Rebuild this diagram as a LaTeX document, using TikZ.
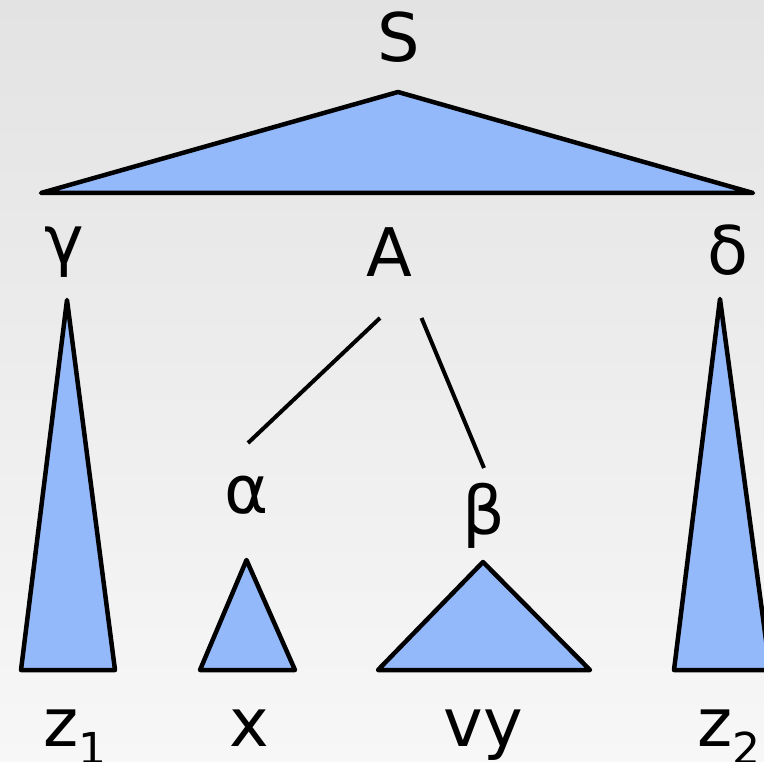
\documentclass[tikz,border=0pt]{standalone}
\usepackage{fontspec}
\setmainfont{DejaVu Sans}
\usetikzlibrary{positioning}
\definecolor{treefill}{RGB}{148,185,250}
\definecolor{bgtop}{RGB}{227,227,227}
\definecolor{bgbottom}{RGB}{247,247,247}
\tikzset{
  sym/.style={inner sep=0pt, font=\fontsize{67}{67}\selectfont},
  subtree/.style={draw=black, fill=treefill, line width=4.5pt, line join=round},
  branch/.style={line width=4pt}
}
\newcommand{\lowidx}[1]{\raisebox{-18pt}{\fontsize{44}{44}\selectfont #1}}

\begin{document}
\begin{tikzpicture}[x=1pt, y=-1pt]
\shade[top color=bgtop, bottom color=bgbottom] (0,0) rectangle (764,762);
\useasboundingbox (0,0) rectangle (764,762);
\node[sym] (S) at (399,37.5) {S};
\node[sym] (gamma) at (64.5,252) {γ};
\node[sym] (A) at (389.5,252) {A};
\node[sym] (delta) at (728,250) {δ};
\node[sym] (alpha) at (246.5,495) {α};
\node[sym] (beta) at (484,515.5) {β};
\node[sym, anchor=base west] (z1) at (43,746) {z\lowidx{1}};
\node[sym, anchor=base] (x) at (249,746) {x};
\node[sym, anchor=base] (vy) at (483,746) {vy};
\node[sym, anchor=base west] (z2) at (697,746) {z\lowidx{2}};
\draw[subtree] (398,92) -- (41,193) -- (753,193) -- cycle;
\draw[subtree] (67,300) -- (21,670) -- (115,670) -- cycle;
\draw[subtree] (720,299) -- (674,670) -- (770,670) -- cycle;
\draw[subtree] (246.5,560) -- (200,670) -- (295,670) -- cycle;
\draw[subtree] (483,562) -- (378,670) -- (590,670) -- cycle;
\coordinate (A-l) at (380,318);
\coordinate (A-r) at (421.5,318);
\coordinate (alpha-t) at (248,443);
\coordinate (beta-t) at (484,468);
\draw[branch] (A-l) -- (alpha-t);
\draw[branch] (A-r) -- (beta-t);
\end{tikzpicture}
\end{document}
